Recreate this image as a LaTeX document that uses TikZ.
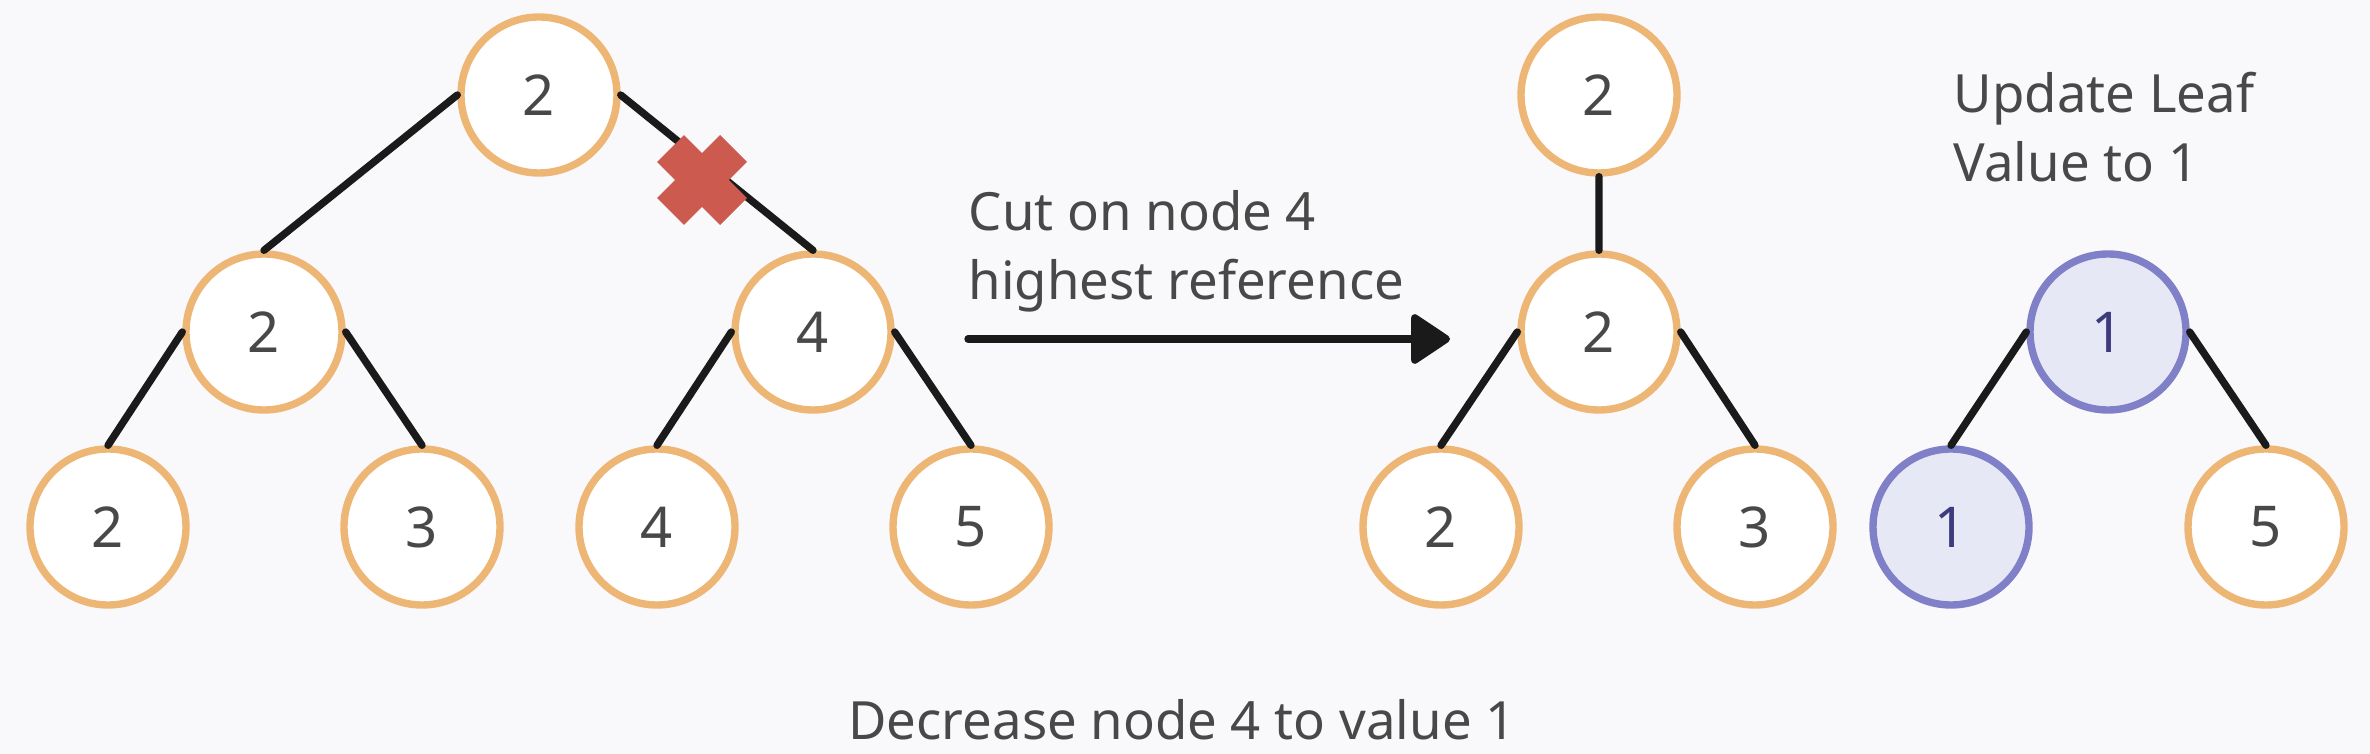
\documentclass[tikz,border=0pt]{standalone}
\usepackage{fontspec}
\setmainfont{Noto Sans}
\usetikzlibrary{arrows.meta}
\definecolor{paper}{HTML}{F9F9FB}
\definecolor{peach}{HTML}{EDB674}
\definecolor{lilac}{HTML}{8080C8}
\definecolor{lilacfill}{HTML}{E6E8F6}
\definecolor{ink}{HTML}{484848}
\definecolor{indigo}{HTML}{3E3A7E}
\definecolor{wire}{HTML}{1A1A1A}
\definecolor{cutred}{HTML}{CC5A4F}
\begin{document}
\begin{tikzpicture}[>={Triangle[length=4.2mm,width=5.4mm,round]}, line join=round, line cap=round,
  vert/.style={circle, draw=peach, line width=2.1pt, fill=white, minimum size=1.56cm, inner sep=0pt, text=ink, font=\fontsize{16}{19}\selectfont},
  hot/.style={vert, draw=lilac, fill=lilacfill, text=indigo},
  edge/.style={draw=wire, line width=2.1pt},
  lbl/.style={text=ink, font=\fontsize{15}{19.9}\selectfont, align=left, inner sep=0pt}]
  \def\top{-0.95} \def\mid{-3.32} \def\low{-5.27}
  \fill[paper] (0,0) rectangle (23.70,-7.54);
  \useasboundingbox (0,0) rectangle (23.70,-7.54);
  % before the cut
  \node[vert] (root) at (5.39,\top) {2};
  \node[vert] (a2) at (2.64,\mid) {2};
  \node[vert] (a4) at (8.13,\mid) {4};
  \node[vert] (aa2) at (1.08,\low) {2};
  \node[vert] (aa3) at (4.22,\low) {3};
  \node[vert] (aa4) at (6.57,\low) {4};
  \node[vert] (aa5) at (9.71,\low) {5};
  \draw[edge] (root.west)--(a2.north) (root.east)--(a4.north)
    (a2.west)--(aa2.north) (a2.east)--(aa3.north)
    (a4.west)--(aa4.north) (a4.east)--(aa5.north);
  \draw[cutred, line width=0.38cm, line cap=butt] (7.02,-1.80)++(-0.315,0.315)--++(0.63,-0.63)
    (7.02,-1.80)++(0.315,0.315)--++(-0.63,-0.63);
  % the cut
  \coordinate (cutS) at (9.68,-3.39);
  \coordinate (cutE) at (14.50,-3.39);
  \draw[edge,->] (cutS)--(cutE);
  \node[lbl, anchor=base west] (cutlbl) at (9.68,-3.00) {Cut on node 4\\highest reference};
  \node[lbl, anchor=base] (declbl) at (11.82,-7.39) {Decrease node 4 to value 1};
  % after the cut
  \node[vert] (b2) at (15.99,\top) {2};
  \node[vert] (bm) at (15.99,\mid) {2};
  \node[vert] (bb2) at (14.41,\low) {2};
  \node[vert] (bb3) at (17.55,\low) {3};
  \node[hot] (c1) at (21.08,\mid) {1};
  \node[hot] (cc1) at (19.51,\low) {1};
  \node[vert] (cc5) at (22.66,\low) {5};
  \draw[edge] (b2.south)--(bm.north) (bm.west)--(bb2.north) (bm.east)--(bb3.north)
    (c1.west)--(cc1.north) (c1.east)--(cc5.north);
  \node[lbl, anchor=base west] (updlbl) at (19.53,-1.82) {Update Leaf\\Value to 1};
\end{tikzpicture}
\end{document}
